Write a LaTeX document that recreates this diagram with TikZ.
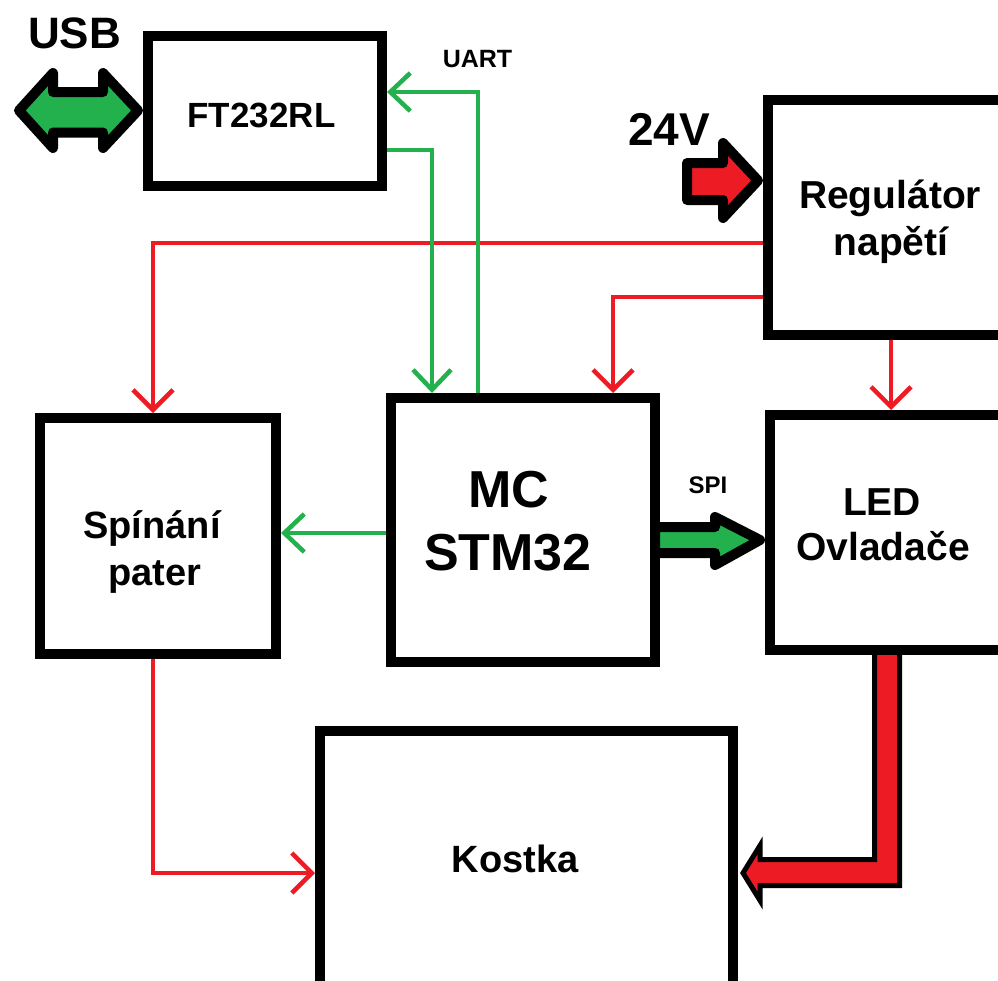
\documentclass[tikz,border=0pt]{standalone}
\usepackage{fontspec}
\setmainfont{Liberation Sans}
\usetikzlibrary{arrows.meta}
\definecolor{pgreen}{HTML}{22B14C}
\definecolor{pred}{HTML}{ED1C24}
\pgfdeclarelayer{bg}
\pgfsetlayers{bg,main}
\begin{document}
\begin{tikzpicture}[x=1pt,y=-1pt,
  blk/.style={draw=black,line width=10pt,inner sep=0pt,outer sep=5pt},
  txt/.style={anchor=base,inner sep=0pt,font=\bfseries\fontsize{#1}{#1}\selectfont},
  rl/.style={draw=pred,line width=4.5pt,-{Straight Barb[length=20pt,width=40pt]}},
  gl/.style={draw=pgreen,line width=4.5pt,-{Straight Barb[length=20pt,width=38pt]}},
  fat/.style={draw=black,line width=10pt,line join=round}]
\useasboundingbox (0,0) rectangle (998,980);
\clip (0,0) rectangle (998,980);
% boxes
\node[blk,minimum width=234pt,minimum height=150pt] (ft) at (265,111) {};
\node[blk,minimum width=242pt,minimum height=235pt] (reg) at (889,217.5) {};
\node[blk,minimum width=236pt,minimum height=236pt] (sp) at (158,536) {};
\node[blk,minimum width=264pt,minimum height=264pt] (mc) at (523,530) {};
\node[blk,minimum width=240pt,minimum height=235pt] (led) at (890,532.5) {};
\node[blk,minimum width=413pt,minimum height=279pt] (kos) at (526.5,870.5) {};
% texts
\node[txt=44] (tusb) at (74.5,48) {USB};
\node[txt=35] (tft) at (261.5,127) {FT232RL};
\node[txt=25] (tuart) at (477.5,67) {UART};
\node[txt=46] (t24) at (669,145) {24V};
\node[txt=39] (treg1) at (890,208) {Regulátor};
\node[txt=39] (treg2) at (891,255) {napětí};
\node[txt=38] (tsp1) at (152,538) {Spínání};
\node[txt=38] (tsp2) at (155,585) {pater};
\node[txt=52] (tmc1) at (509,507) {MC};
\node[txt=52] (tmc2) at (508,570) {STM32};
\node[txt=24] (tspi) at (708,493) {SPI};
\node[txt=39] (tled1) at (882,515) {LED};
\node[txt=39] (tled2) at (883,560) {Ovladače};
\node[txt=38] (tkos) at (515,872) {Kostka};
% routing coordinates
\coordinate (r1) at (153,243);
\coordinate (r2) at (613,297);
\coordinate (r3) at (891,0);
\coordinate (r4) at (153,873);
\coordinate (g1) at (478,92);
\coordinate (g2) at (432,150);
\coordinate (g3) at (0,533);
% red thin connectors
\draw[rl] (reg.west |- r1) -| (sp.north -| r1);
\draw[rl] (reg.west |- r2) -| (mc.north -| r2);
\draw[rl] (reg.south -| r3) -- (led.north -| r3);
\draw[rl] (sp.south -| r4) |- (kos.west |- r4);
% green thin connectors
\draw[gl] (mc.north -| g1) |- (ft.east |- g1);
\draw[gl] (ft.east |- g2) -| (mc.north -| g2);
\draw[gl] (mc.west |- g3) -- (sp.east |- g3);
% thick arrows
\begin{pgfonlayer}{bg}
\fill[white] (0,0) rectangle (998,980);
\draw[fat,fill=pgreen] (19,110.5) -- (53,73) -- (53,92) -- (103,92) -- (103,73) -- (138,110.5) -- (103,148) -- (103,132.5) -- (53,132.5) -- (53,148) -- cycle;
\draw[fat,fill=pred] (687,163) -- (723,163) -- (723,143) -- (758,180.5) -- (723,218) -- (723,200) -- (687,200) -- cycle;
\draw[fat,fill=pgreen] (655,527) -- (715,527) -- (715,517) -- (760,540) -- (715,565) -- (715,553) -- (655,553) -- cycle;
\draw[draw=black,line width=5pt,line join=miter,fill=pred] (874.5,650) -- (874.5,859.5) -- (760,859.5) -- (760,845.5) -- (743,873) -- (760,900.5) -- (760,885.5) -- (899.5,885.5) -- (899.5,650) -- cycle;
\end{pgfonlayer}
\end{tikzpicture}
\end{document}
